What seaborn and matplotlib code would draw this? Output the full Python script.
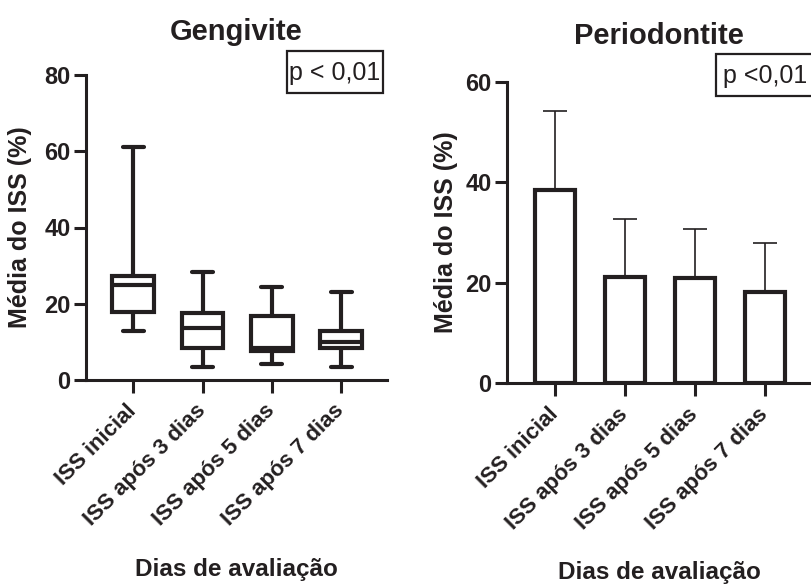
import numpy as np
import pandas as pd
import matplotlib
matplotlib.use("Agg")
import matplotlib.pyplot as plt
from matplotlib.patches import Rectangle
import seaborn as sns

# data
dias = ["ISS inicial", "ISS após 3 dias", "ISS após 5 dias", "ISS após 7 dias"]

# Gengivite: min / Q1 / mediana / Q3 / max
geng_min = [12.9, 3.3, 4.1, 3.3]
geng_q1 = [17.8, 8.5, 7.6, 8.3]
geng_med = [25.0, 13.6, 8.5, 9.9]
geng_q3 = [27.3, 17.7, 16.8, 12.9]
geng_max = [61.2, 28.4, 24.3, 23.2]

# Periodontite: média e desvio
perio_media = [38.4, 21.2, 20.9, 18.2]
perio_dp = [15.8, 11.5, 9.8, 9.8]

ink = "#231f20"

sns.set_style("ticks")
plt.rcParams["font.family"] = ["Liberation Sans", "DejaVu Sans"]
plt.rcParams["font.weight"] = "bold"
plt.rcParams["text.color"] = ink
plt.rcParams["axes.labelcolor"] = ink
plt.rcParams["xtick.color"] = ink
plt.rcParams["ytick.color"] = ink

# long table: five values per day give exactly those quartiles
rows = []
for i, d in enumerate(dias):
    for v in (geng_min[i], geng_q1[i], geng_med[i], geng_q3[i], geng_max[i]):
        rows.append({"dia": d, "iss": v})
geng = pd.DataFrame(rows)
perio = pd.DataFrame({"dia": dias, "media": perio_media, "dp": perio_dp})

fig = plt.figure(figsize=(8.11, 5.85), dpi=100)
ax1 = fig.add_axes([86 / 811, 1 - 380 / 585, 301 / 811, 305 / 585])
ax2 = fig.add_axes([507 / 811, 1 - 383.3 / 585, 304 / 811, 301.6 / 585])

# --- Gengivite (boxplot min-max)
sns.boxplot(data=geng, x="dia", y="iss", ax=ax1, whis=(0, 100), width=0.6,
            color="white", linecolor=ink, linewidth=3.0, showfliers=False)
ax1.set_ylim(0, 80)
ax1.set_yticks([0, 20, 40, 60, 80])
ax1.set_xlim(-0.68, 3.66)

# --- Periodontite (barras + desvio)
sns.barplot(data=perio, x="dia", y="media", ax=ax2, color="white",
            edgecolor=ink, linewidth=3, width=0.58, errorbar=None, zorder=3)
ax2.errorbar(np.arange(len(dias)), perio["media"],
             yerr=[np.zeros(len(dias)), perio["dp"]], fmt="none",
             ecolor=ink, elinewidth=1.2, capsize=8.3, capthick=1.2, zorder=2)
ax2.set_ylim(0, 60)
ax2.set_yticks([0, 20, 40, 60])
ax2.set_xlim(-0.69, 3.66)

# (ax, title, title y, ylabel x, xlabel y, p text, text xy, box x0, y0, w, h)
panels = [
    (ax1, "Gengivite", 1.14, -0.18, -0.585, "p < 0,01", (0.826, 1.007),
     (0.668, 0.941, 0.319, 0.138)),
    (ax2, "Periodontite", 1.15, -0.161, -0.59, "p <0,01", (0.849, 1.02),
     (0.6875, 0.953, 0.35, 0.139)),
]

for ax, title, ty, lx, ly, p_txt, pxy, box in panels:
    sns.despine(ax=ax)
    for s in ("left", "bottom"):
        ax.spines[s].set_linewidth(2.2)
        ax.spines[s].set_color(ink)
    ax.tick_params(axis="both", length=9, width=2.2)
    ax.tick_params(axis="y", pad=2, labelsize=17)
    ax.tick_params(axis="x", pad=11)
    for lab in ax.get_yticklabels():
        lab.set_fontweight("bold")
    ax.set_xticks(range(len(dias)))
    ax.set_xticklabels(dias, rotation=45, ha="right", va="center",
                       rotation_mode="anchor", fontsize=16, fontweight="bold")
    ax.set_ylabel("Média do ISS (%)", fontsize=18, fontweight="bold")
    ax.yaxis.set_label_coords(lx, 0.5)
    ax.set_xlabel("Dias de avaliação", fontsize=17.5, fontweight="bold")
    ax.xaxis.set_label_coords(0.5, ly)
    ax.text(0.5, ty, title, transform=ax.transAxes, ha="center", va="center",
            fontsize=21, fontweight="bold")
    ax.add_patch(Rectangle(box[:2], box[2], box[3], transform=ax.transAxes,
                           facecolor="white", edgecolor=ink, linewidth=1.6,
                           clip_on=False, zorder=5))
    ax.text(pxy[0], pxy[1], p_txt, transform=ax.transAxes, ha="center",
            va="center", fontsize=18, fontweight="normal", clip_on=False,
            zorder=6)

fig.savefig("out.png", dpi=100)
